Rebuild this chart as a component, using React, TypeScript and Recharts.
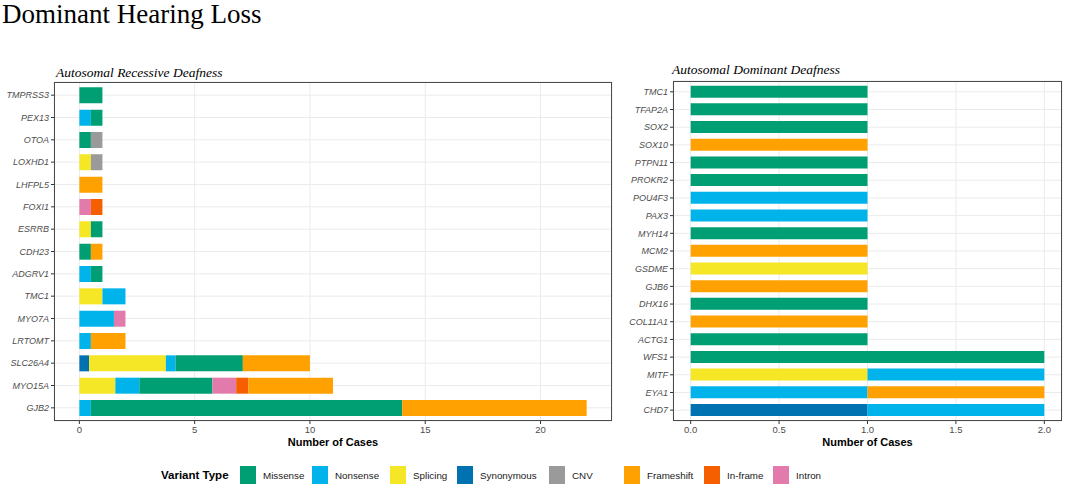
import React from 'react';
import { Bar, BarChart, CartesianGrid, XAxis, YAxis } from 'recharts';

// legend order and colours
const variantTypes = ['Missense', 'Nonsense', 'Splicing', 'Synonymous', 'CNV', 'Frameshift', 'In-frame', 'Intron'];
const variantColors = ['#009E73', '#00B4EB', '#F5E626', '#0072B2', '#9A9A9A', '#FFA100', '#F55F00', '#E27AAB'];
// order in which segments are stacked from the axis outward
const stackOrder = ['Synonymous', 'Splicing', 'Nonsense', 'Missense', 'CNV', 'Intron', 'In-frame', 'Frameshift'];

// Autosomal recessive panel (top to bottom)
const recessiveGenes = ['TMPRSS3', 'PEX13', 'OTOA', 'LOXHD1', 'LHFPL5', 'FOXI1', 'ESRRB', 'CDH23', 'ADGRV1', 'TMC1', 'MYO7A', 'LRTOMT', 'SLC26A4', 'MYO15A', 'GJB2'];
const recessiveMissense =   [1, 0.5, 0.5, 0, 0, 0, 0.5, 0.5, 0.5, 0, 0, 0, 2.92, 3.17, 13.5];
const recessiveNonsense =   [0, 0.5, 0, 0, 0, 0, 0, 0, 0.5, 1, 1.5, 0.5, 0.42, 1.04, 0.5];
const recessiveSplicing =   [0, 0, 0, 0.5, 0, 0, 0.5, 0, 0, 1, 0, 0, 3.33, 1.56, 0];
const recessiveSynonymous = [0, 0, 0, 0, 0, 0, 0, 0, 0, 0, 0, 0, 0.42, 0, 0];
const recessiveCNV =        [0, 0, 0.5, 0.5, 0, 0, 0, 0, 0, 0, 0, 0, 0, 0, 0];
const recessiveFrameshift = [0, 0, 0, 0, 1, 0, 0, 0.5, 0, 0, 0, 1.5, 2.91, 3.67, 8];
const recessiveInframe =    [0, 0, 0, 0, 0, 0.5, 0, 0, 0, 0, 0, 0, 0, 0.53, 0];
const recessiveIntron =     [0, 0, 0, 0, 0, 0.5, 0, 0, 0, 0, 0.5, 0, 0, 1.03, 0];
const recessiveTicks = [0, 5, 10, 15, 20];

// Autosomal dominant panel (top to bottom)
const dominantGenes = ['TMC1', 'TFAP2A', 'SOX2', 'SOX10', 'PTPN11', 'PROKR2', 'POU4F3', 'PAX3', 'MYH14', 'MCM2', 'GSDME', 'GJB6', 'DHX16', 'COL11A1', 'ACTG1', 'WFS1', 'MITF', 'EYA1', 'CHD7'];
const dominantMissense =   [1, 1, 1, 0, 1, 1, 0, 0, 1, 0, 0, 0, 1, 0, 1, 2, 0, 0, 0];
const dominantNonsense =   [0, 0, 0, 0, 0, 0, 1, 1, 0, 0, 0, 0, 0, 0, 0, 0, 1, 1, 1];
const dominantSplicing =   [0, 0, 0, 0, 0, 0, 0, 0, 0, 0, 1, 0, 0, 0, 0, 0, 1, 0, 0];
const dominantSynonymous = [0, 0, 0, 0, 0, 0, 0, 0, 0, 0, 0, 0, 0, 0, 0, 0, 0, 0, 1];
const dominantFrameshift = [0, 0, 0, 1, 0, 0, 0, 0, 0, 1, 0, 1, 0, 1, 0, 0, 0, 1, 0];
const dominantTicks = [0, 0.5, 1, 1.5, 2];

const recessiveData = recessiveGenes.map((gene, i) => ({
  gene,
  Missense: recessiveMissense[i],
  Nonsense: recessiveNonsense[i],
  Splicing: recessiveSplicing[i],
  Synonymous: recessiveSynonymous[i],
  CNV: recessiveCNV[i],
  Frameshift: recessiveFrameshift[i],
  'In-frame': recessiveInframe[i],
  Intron: recessiveIntron[i],
}));

const dominantData = dominantGenes.map((gene, i) => ({
  gene,
  Missense: dominantMissense[i],
  Nonsense: dominantNonsense[i],
  Splicing: dominantSplicing[i],
  Synonymous: dominantSynonymous[i],
  Frameshift: dominantFrameshift[i],
}));

const colorOf = (t: string) => variantColors[variantTypes.indexOf(t)];

const sans = 'Liberation Sans, Arial, sans-serif';
const serif = 'Liberation Serif, Times New Roman, serif';
const axisText = { fill: '#4D4D4D', fontSize: 9.5, fontFamily: sans };
const geneText = { ...axisText, fontSize: 9, fontStyle: 'italic' };
const axisTitle = { value: 'Number of Cases', position: 'insideBottom' as const, offset: 5, fill: '#000', fontSize: 11, fontWeight: 'bold', fontFamily: sans };

// legend key x positions (px)
const legendKeyX = [240, 312, 390, 457, 549, 624, 704, 773];

const subtitleStyle: React.CSSProperties = {
  position: 'absolute', fontFamily: serif, fontStyle: 'italic',
  fontSize: 13.5, lineHeight: '13.5px', color: '#000', whiteSpace: 'nowrap',
};

const borderStyle: React.CSSProperties = {
  position: 'absolute', border: '1.5px solid #4a4a4a', boxSizing: 'border-box', pointerEvents: 'none',
};

export default function App() {
  return (
    <div style={{ position: 'relative', width: 1065, height: 488, background: '#fff', overflow: 'hidden' }}>
      <style>{`body{margin:0}`}</style>
      <div style={{ position: 'absolute', left: 2, top: 2, fontFamily: serif, fontSize: 27, lineHeight: '24px', whiteSpace: 'nowrap' }}>
        Dominant Hearing Loss
      </div>

      <div style={{ ...subtitleStyle, left: 56, top: 66 }}>Autosomal Recessive Deafness</div>
      <div style={{ position: 'absolute', left: 0, top: 60 }}>
        <BarChart width={620} height={400} data={recessiveData} layout="vertical"
          margin={{ top: 22, right: 8, bottom: 9, left: 4 }} barCategoryGap="15%">
          <CartesianGrid stroke="#EBEBEB" strokeWidth={1} />
          <XAxis type="number" domain={[-1.1, 23.1]} ticks={recessiveTicks} allowDataOverflow
            axisLine={false} tickLine={{ stroke: '#333' }} tickSize={3} tick={axisText} height={30}
            label={axisTitle} />
          <YAxis type="category" dataKey="gene" width={50} axisLine={false}
            tickLine={{ stroke: '#333' }} tickSize={3} tick={geneText} interval={0}
            padding={{ top: 2, bottom: 2 }} />
          {stackOrder.map((t) => (
            <Bar key={t} dataKey={t} stackId="a" fill={colorOf(t)} isAnimationActive={false} />
          ))}
        </BarChart>
      </div>
      <div style={{ ...borderStyle, left: 54, top: 82, width: 558, height: 339 }} />

      <div style={{ ...subtitleStyle, left: 672, top: 63 }}>Autosomal Dominant Deafness</div>
      <div style={{ position: 'absolute', left: 600, top: 60 }}>
        <BarChart width={465} height={400} data={dominantData} layout="vertical"
          margin={{ top: 21, right: 3, bottom: 9, left: 13 }} barCategoryGap="15%">
          <CartesianGrid stroke="#EBEBEB" strokeWidth={1} />
          <XAxis type="number" domain={[-0.1, 2.1]} ticks={dominantTicks} allowDataOverflow
            tickFormatter={(v: number) => v.toFixed(1)}
            axisLine={false} tickLine={{ stroke: '#333' }} tickSize={3} tick={axisText} height={30}
            label={axisTitle} />
          <YAxis type="category" dataKey="gene" width={60} axisLine={false}
            tickLine={{ stroke: '#333' }} tickSize={3} tick={geneText} interval={0}
            padding={{ top: 2, bottom: 2 }} />
          {stackOrder.filter((t) => t in dominantData[0]).map((t) => (
            <Bar key={t} dataKey={t} stackId="a" fill={colorOf(t)} isAnimationActive={false} />
          ))}
        </BarChart>
      </div>
      <div style={{ ...borderStyle, left: 673, top: 81, width: 389, height: 340 }} />

      <div style={{ position: 'absolute', left: 161, top: 467, fontFamily: sans, fontWeight: 'bold', fontSize: 11.5, lineHeight: '16px' }}>
        Variant Type
      </div>
      {variantTypes.map((t, i) => (
        <div key={t} style={{ position: 'absolute', left: legendKeyX[i], top: 466, display: 'flex', alignItems: 'center', whiteSpace: 'nowrap' }}>
          <div style={{ width: 16, height: 18, background: variantColors[i] }} />
          <span style={{ marginLeft: 7, fontFamily: sans, fontSize: 9.8, color: '#1a1a1a' }}>{t}</span>
        </div>
      ))}
    </div>
  );
}
